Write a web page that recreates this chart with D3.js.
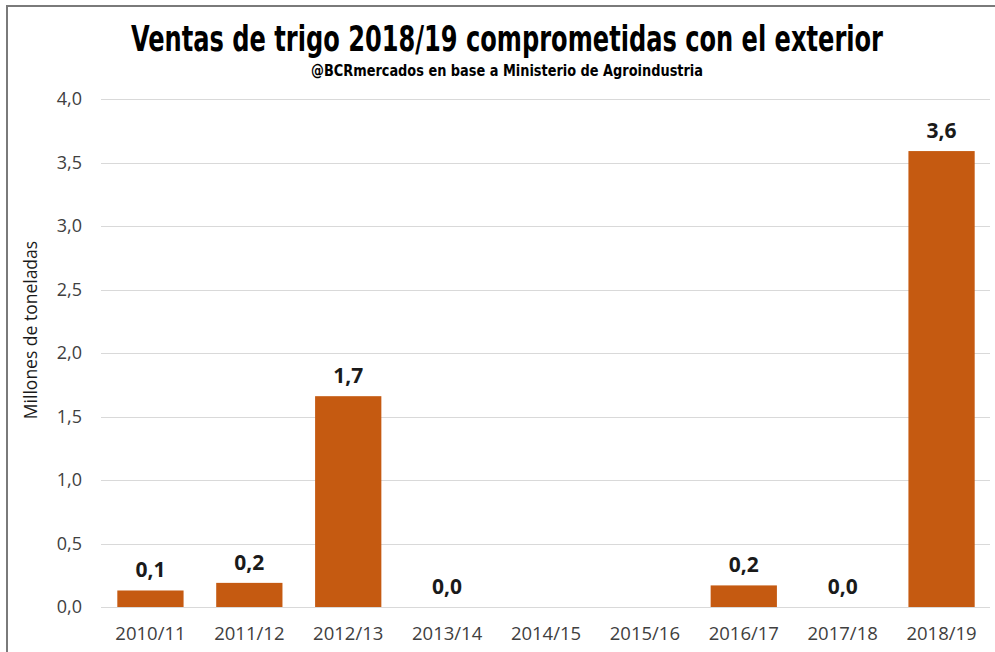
<!DOCTYPE html>
<html>
<head>
<meta charset="utf-8">
<script src="https://d3js.org/d3.v7.min.js"></script>
<style>
  body { margin: 0; background: #fff; }
</style>
</head>
<body>
<div id="chart"></div>
<script>
// data
var seasons = ["2010/11", "2011/12", "2012/13", "2013/14", "2014/15", "2015/16", "2016/17", "2017/18", "2018/19"];
var sales = [0.13, 0.19, 1.66, 0.0, null, null, 0.17, 0.0, 3.59];
var yTicks = [0, 0.5, 1, 1.5, 2, 2.5, 3, 3.5, 4];

var data = seasons.map(function(s, i) { return {season: s, value: sales[i]}; });

var W = 995, H = 652;
var margin = {top: 99, right: 4, bottom: 45, left: 101};

var svg = d3.select("#chart")
  .append("svg")
    .attr("width", W)
    .attr("height", H);

// frame around the chart
svg.append("rect")
    .attr("x", 7).attr("y", 6)
    .attr("width", 1100).attr("height", 800)
    .attr("fill", "none")
    .attr("stroke", "#7a7a7a")
    .attr("stroke-width", 2);

var x = d3.scaleBand()
    .domain(seasons)
    .range([margin.left, 991])
    .paddingInner(0.33)
    .paddingOuter(0.165);

var y = d3.scaleLinear()
    .domain([0, 4])
    .range([607, 99]);

var fmt = function(v) { return d3.format(".1f")(v).replace(".", ","); };

// gridlines
svg.append("g")
  .selectAll("line")
  .data(yTicks)
  .enter()
  .append("line")
    .attr("x1", margin.left)
    .attr("x2", 990)
    .attr("y1", function(d) { return Math.round(y(d)) + 0.5; })
    .attr("y2", function(d) { return Math.round(y(d)) + 0.5; })
    .attr("stroke", "#d9d9d9")
    .attr("stroke-width", 1);

// y axis labels
var yAxis = svg.append("g")
    .attr("transform", "translate(" + 82 + ",0)")
    .call(d3.axisLeft(y).tickValues(yTicks).tickFormat(fmt).tickSize(0).tickPadding(0));
yAxis.select(".domain").remove();
yAxis.selectAll("text")
    .attr("font-family", "'Open Sans', sans-serif")
    .attr("font-size", "18px")
    .attr("fill", "#404040");

// x axis labels
var xAxis = svg.append("g")
    .attr("transform", "translate(0," + 607 + ")")
    .call(d3.axisBottom(x).tickSize(0).tickPadding(20));
xAxis.select(".domain").remove();
xAxis.selectAll("text")
    .attr("font-family", "'Open Sans', sans-serif")
    .attr("font-size", "18.5px")
    .attr("fill", "#404040");

// bars
svg.append("g")
  .selectAll("rect")
  .data(data.filter(function(d) { return d.value !== null; }))
  .enter()
  .append("rect")
    .attr("x", function(d) { return x(d.season); })
    .attr("width", x.bandwidth())
    .attr("y", function(d) { return y(d.value); })
    .attr("height", function(d) { return y(0) - y(d.value); })
    .attr("fill", "#c55a11");

// value labels
svg.append("g")
  .selectAll("text")
  .data(data.filter(function(d) { return d.value !== null; }))
  .enter()
  .append("text")
    .attr("x", function(d) { return x(d.season) + x.bandwidth() / 2; })
    .attr("y", function(d) { return y(d.value) - 13; })
    .attr("text-anchor", "middle")
    .attr("font-family", "'Open Sans', sans-serif")
    .attr("font-weight", "bold")
    .attr("font-size", "21px")
    .attr("fill", "#1a1a1a")
    .text(function(d) { return fmt(d.value); });

// y axis title
svg.append("text")
    .attr("transform", "translate(37,330) rotate(-90)")
    .attr("text-anchor", "middle")
    .attr("font-family", "'Open Sans', sans-serif")
    .attr("font-size", "17.5px")
    .attr("fill", "#1a1a1a")
    .text("Millones de toneladas");

// titles
svg.append("text")
    .attr("x", 507).attr("y", 51)
    .attr("text-anchor", "middle")
    .attr("font-family", "'DejaVu Sans Condensed', 'Liberation Sans Narrow', Roboto, sans-serif")
    .attr("font-weight", "bold")
    .attr("font-size", "35px")
    .attr("textLength", 752)
    .attr("lengthAdjust", "spacingAndGlyphs")
    .attr("fill", "#000")
    .text("Ventas de trigo 2018/19 comprometidas con el exterior");

svg.append("text")
    .attr("x", 507).attr("y", 76)
    .attr("text-anchor", "middle")
    .attr("font-family", "'DejaVu Sans Condensed', 'Liberation Sans Narrow', Roboto, sans-serif")
    .attr("font-weight", "bold")
    .attr("font-size", "15px")
    .attr("textLength", 392)
    .attr("lengthAdjust", "spacingAndGlyphs")
    .attr("fill", "#000")
    .text("@BCRmercados en base a Ministerio de Agroindustria");
</script>
</body>
</html>
